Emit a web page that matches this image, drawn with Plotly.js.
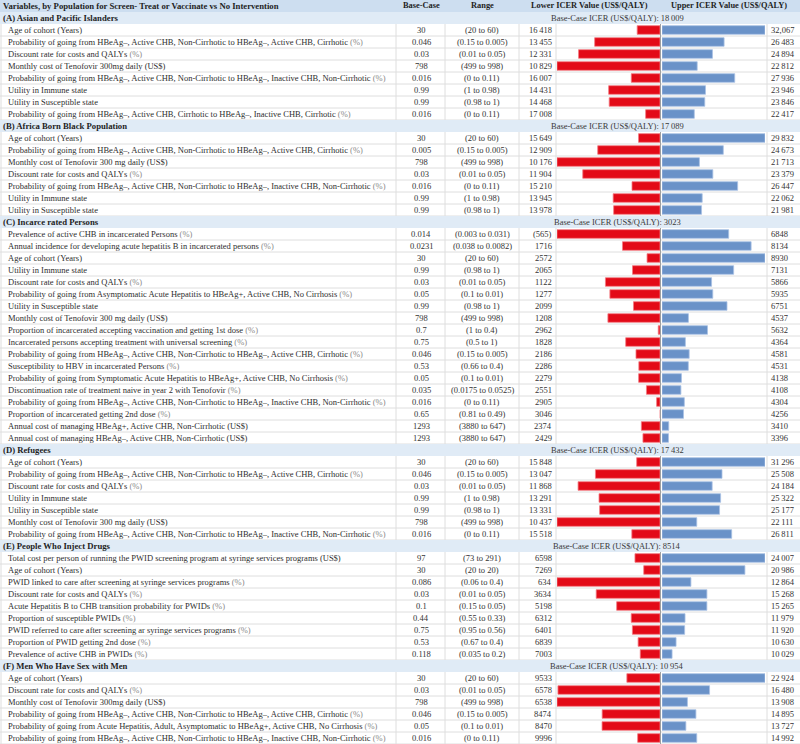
<!DOCTYPE html>
<html><head><meta charset="utf-8">
<script src="https://cdn.plot.ly/plotly-3.0.1.min.js"></script>
<style>html,body{margin:0;padding:0;background:#fff}#chart{width:800px;height:744px}</style>
</head><body><div id="chart"></div>
<script>
// ---------------- DATA ----------------
const headerTitle = "Variables, by Population for Screen- Treat or Vaccinate vs No Intervention";
const columnHeads = ["Base-Case", "Range", "Lower ICER Value (US$/QALY)", "Upper ICER Value (US$/QALY)"];
const sectionNames = ["(A) Asian and Pacific Islanders", "(B) Africa Born Black Population", "(C) Incarce rated Persons",
  "(D) Refugees", "(E) People Who Inject Drugs", "(F) Men Who Have Sex with Men"];
const baseCaseIcer = [18009, 17089, 3023, 17432, 8514, 10954];

const P_AC = "Probability of going from HBeAg–, Active CHB, Non-Cirrhotic to HBeAg–, Active CHB, Cirrhotic (%)";
const P_IN = "Probability of going from HBeAg–, Active CHB, Non-Cirrhotic to HBeAg–, Inactive CHB, Non-Cirrhotic (%)";

// (A) Asian and Pacific Islanders
const aLabels = ["Age of cohort (Years)", P_AC, "Discount rate for costs and QALYs (%)", "Monthly cost of Tenofovir 300mg daily (US$)",
  P_IN, "Utility in Immune state", "Utility in Susceptible state",
  "Probability of going from HBeAg–, Active CHB, Cirrhotic to HBeAg–, Inactive CHB, Cirrhotic (%)"];
const aBase = ["30", "0.046", "0.03", "798", "0.016", "0.99", "0.99", "0.016"];
const aRange = ["(20 to 60)", "(0.15 to 0.005)", "(0.01 to 0.05)", "(499 to 998)", "(0 to 0.11)", "(1 to 0.98)", "(0.98 to 1)", "(0 to 0.11)"];
const aLower = [16418, 13455, 12331, 10829, 16007, 14431, 14468, 17008];
const aUpper = [32067, 26483, 24894, 22812, 27936, 23946, 23846, 22417];

// (B) Africa Born Black Population
const bLabels = ["Age of cohort (Years)", P_AC, "Monthly cost of Tenofovir 300 mg daily (US$)", "Discount rate for costs and QALYs (%)",
  P_IN, "Utility in Immune state", "Utility in Susceptible state"];
const bBase = ["30", "0.005", "798", "0.03", "0.016", "0.99", "0.99"];
const bRange = ["(20 to 60)", "(0.15 to 0.005)", "(499 to 998)", "(0.01 to 0.05)", "(0 to 0.11)", "(1 to 0.98)", "(0.98 to 1)"];
const bLower = [15649, 12909, 10176, 11904, 15210, 13945, 13978];
const bUpper = [29832, 24673, 21713, 23379, 26447, 22062, 21981];

// (C) Incarcerated Persons
const cLabels = ["Prevalence of active CHB in incarcerated Persons (%)",
  "Annual incidence for developing acute hepatitis B in incarcerated persons (%)",
  "Age of cohort (Years)", "Utility in Immune state", "Discount rate for costs and QALYs (%)",
  "Probability of going from Asymptomatic Acute Hepatitis to HBeAg+, Active CHB, No Cirrhosis (%)",
  "Utility in Susceptible state", "Monthly cost of Tenofovir 300 mg daily (US$)",
  "Proportion of incarcerated accepting vaccination and getting 1st dose (%)",
  "Incarcerated persons accepting treatment with universal screening (%)", P_AC,
  "Susceptibility to HBV in incarcerated Persons (%)",
  "Probability of going from Symptomatic Acute Hepatitis to HBeAg+, Active CHB, No Cirrhosis (%)",
  "Discontinuation rate of treatment naive in year 2 with Tenofovir (%)", P_IN,
  "Proportion of incarcerated getting 2nd dose (%)",
  "Annual cost of managing HBeAg+, Active CHB, Non-Cirrhotic (US$)",
  "Annual cost of managing HBeAg–, Active CHB, Non-Cirrhotic (US$)"];
const cBase = ["0.014", "0.0231", "30", "0.99", "0.03", "0.05", "0.99", "798", "0.7", "0.75", "0.046", "0.53", "0.05", "0.035", "0.016", "0.65", "1293", "1293"];
const cRange = ["(0.003 to 0.031)", "(0.038 to 0.0082)", "(20 to 60)", "(0.98 to 1)", "(0.01 to 0.05)", "(0.1 to 0.01)", "(0.98 to 1)",
  "(499 to 998)", "(1 to 0.4)", "(0.5 to 1)", "(0.15 to 0.005)", "(0.66 to 0.4)", "(0.1 to 0.01)", "(0.0175 to 0.0525)",
  "(0 to 0.11)", "(0.81 to 0.49)", "(3880 to 647)", "(3880 to 647)"];
const cLower = [-565, 1716, 2572, 2065, 1122, 1277, 2099, 1208, 2962, 1828, 2186, 2286, 2279, 2551, 2905, 3046, 2374, 2429];
const cUpper = [6848, 8134, 8930, 7131, 5866, 5935, 6751, 4537, 5632, 4364, 4581, 4531, 4138, 4108, 4304, 4256, 3410, 3396];

// (D) Refugees
const dLabels = ["Age of cohort (Years)", P_AC, "Discount rate for costs and QALYs (%)", "Utility in Immune state",
  "Utility in Susceptible state", "Monthly cost of Tenofovir 300 mg daily (US$)", P_IN];
const dBase = ["30", "0.046", "0.03", "0.99", "0.99", "798", "0.016"];
const dRange = ["(20 to 60)", "(0.15 to 0.005)", "(0.01 to 0.05)", "(1 to 0.98)", "(0.98 to 1)", "(499 to 998)", "(0 to 0.11)"];
const dLower = [15848, 13047, 11868, 13291, 13331, 10437, 15518];
const dUpper = [31296, 25508, 24184, 25322, 25177, 22111, 26811];

// (E) People Who Inject Drugs
const eLabels = ["Total cost per person of running the PWID screening program at syringe services programs (US$)",
  "Age of cohort (Years)", "PWID linked to care after screening at syringe services programs (%)",
  "Discount rate for costs and QALYs (%)", "Acute Hepatitis B to CHB transition probability for PWIDs (%)",
  "Proportion of susceptible PWIDs (%)", "PWID referred to care after screening ar syringe services programs (%)",
  "Proportion of PWID getting 2nd dose (%)", "Prevalence of active CHB in PWIDs (%)"];
const eBase = ["97", "30", "0.086", "0.03", "0.1", "0.44", "0.75", "0.53", "0.118"];
const eRange = ["(73 to 291)", "(20 to 20)", "(0.06 to 0.4)", "(0.01 to 0.05)", "(0.15 to 0.05)", "(0.55 to 0.33)", "(0.95 to 0.56)", "(0.67 to 0.4)", "(0.035 to 0.2)"];
const eLower = [6598, 7269, 634, 3634, 5198, 6312, 6401, 6839, 7003];
const eUpper = [24007, 20986, 12864, 15268, 15265, 11979, 11920, 10630, 10029];

// (F) Men Who Have Sex with Men
const fLabels = ["Age of cohort (Years)", "Discount rate for costs and QALYs (%)", "Monthly cost of Tenofovir 300mg daily (US$)", P_AC,
  "Probability of going from Acute Hepatitis, Adult, Asymptomatic to HBeAg+, Active CHB, No Cirrhosis (%)", P_IN];
const fBase = ["30", "0.03", "798", "0.046", "0.05", "0.016"];
const fRange = ["(20 to 60)", "(0.01 to 0.05)", "(499 to 998)", "(0.15 to 0.005)", "(0.1 to 0.01)", "(0 to 0.11)"];
const fLower = [9533, 6578, 6538, 8474, 8470, 9996];
const fUpper = [22924, 16480, 13908, 14895, 13727, 14992];

// one value printed with a comma in the source table
const upperTextOverride = {"0-0": "32,067"};

// ---------------- BUILD ----------------
const sections = [
  {labels: aLabels, base: aBase, range: aRange, lower: aLower, upper: aUpper},
  {labels: bLabels, base: bBase, range: bRange, lower: bLower, upper: bUpper},
  {labels: cLabels, base: cBase, range: cRange, lower: cLower, upper: cUpper},
  {labels: dLabels, base: dBase, range: dRange, lower: dLower, upper: dUpper},
  {labels: eLabels, base: eBase, range: eRange, lower: eLower, upper: eUpper},
  {labels: fLabels, base: fBase, range: fRange, lower: fLower, upper: fUpper}
];

const W = 800, H = 744, ROW = 12;
const FONT = "Liberation Serif, Times New Roman, serif";
const RED = "#e30a17", BLUE = "#6a92c8";
const COL = {label: 7, base: 421, range: 482, lowerR: 553, barL0: 557, barL1: 660, barR0: 662, barR1: 765, upperL: 770, icer: 617};
const VLINES = [1, 396, 445, 519, 556, 767];

const px = v => v / W;
const pyTop = r => 1 - r * ROW / H;          // top edge of row r
const pyMid = r => 1 - (r + 0.5) * ROW / H;  // centre of row r

function fmt(v) {
  const a = Math.abs(v);
  let s = a >= 10000 ? String(a).replace(/\B(?=(\d{3})+(?!\d))/g, "\u2009") : String(a);
  return v < 0 ? "(" + s + ")" : s;
}
function styleLabel(t) {
  return t.replace("(%)", '<span style="color:#8a8a8a">(%)</span>');
}

const traces = [], annotations = [], shapes = [];
const layout = {
  width: W, height: H, margin: {l: 0, r: 0, t: 0, b: 0, pad: 0},
  paper_bgcolor: "#ffffff", plot_bgcolor: "rgba(0,0,0,0)",
  showlegend: false, barmode: "overlay", font: {family: FONT}
};

function ann(x, y, text, opts) {
  annotations.push(Object.assign({
    xref: "paper", yref: "paper", x: x, y: y, text: text, showarrow: false,
    xanchor: "left", yanchor: "middle", borderpad: 0,
    font: {family: FONT, size: 8.5, color: "#2e2e2e"}
  }, opts || {}));
}
function hline(y, x0, x1, color) {
  shapes.push({type: "line", xref: "paper", yref: "paper", x0: x0, x1: x1, y0: y, y1: y, layer: "below",
    line: {color: color || "#dedede", width: 1}});
}

// table header row
shapes.push({type: "rect", xref: "paper", yref: "paper", x0: 0, x1: 1, y0: pyTop(1), y1: pyTop(0), layer: "below",
  fillcolor: "#cddef0", line: {width: 0}});
const HF = {family: FONT, size: 8.7, color: "#1e1e1e"};
const CHF = {family: FONT, size: 8.4, color: "#1e1e1e"};
ann(px(2), pyMid(0), "<b>" + headerTitle + "</b>", {font: HF});
ann(px(COL.base), pyMid(0), "<b>" + columnHeads[0] + "</b>", {xanchor: "center", font: CHF});
ann(px(COL.range), pyMid(0), "<b>" + columnHeads[1] + "</b>", {xanchor: "center", font: CHF});
ann(px(589), pyMid(0), "<b>" + columnHeads[2] + "</b>", {xanchor: "center", font: CHF});
ann(px(729), pyMid(0), "<b>" + columnHeads[3] + "</b>", {xanchor: "center", font: CHF});

let row = 1;
sections.forEach((sec, s) => {
  const n = sec.labels.length;
  const baseIcer = baseCaseIcer[s];
  const hr = row;               // section header row
  const first = row + 1, last = row + n;

  // section header band
  shapes.push({type: "rect", xref: "paper", yref: "paper", x0: 0, x1: 1, y0: pyTop(hr + 1), y1: pyTop(hr), layer: "below",
    fillcolor: "#e0ebf6", line: {width: 0}});
  ann(px(2), pyMid(hr), "<b>" + sectionNames[s] + "</b>", {font: HF});
  ann(px(COL.icer), pyMid(hr), "Base-Case ICER (US$/QALY): " + fmt(baseIcer),
    {xanchor: "center", font: {family: FONT, size: 8.5, color: "#3a3a3a"}});

  // grid lines for data rows
  for (let r = first; r <= last; r++) hline(pyTop(r + 1), 0, 1);
  VLINES.forEach(x => shapes.push({type: "line", xref: "paper", yref: "paper", x0: px(x), x1: px(x),
    y0: pyTop(last + 1), y1: pyTop(first), layer: "below", line: {color: "#dedede", width: 1}}));
  shapes.push({type: "line", xref: "paper", yref: "paper", x0: px(660.5), x1: px(660.5),
    y0: pyTop(last + 1), y1: pyTop(first), layer: "below", line: {color: "#a0a0a0", width: 1}});

  // text cells
  const NF = {family: FONT, size: 8.5, color: "#333333"};
  sec.labels.forEach((lab, i) => {
    const r = first + i;
    ann(px(COL.label), pyMid(r), styleLabel(lab));
    ann(px(COL.base), pyMid(r), sec.base[i], {xanchor: "center", font: NF});
    ann(px(COL.range), pyMid(r), sec.range[i], {xanchor: "center", font: NF});
    ann(px(COL.lowerR), pyMid(r), fmt(sec.lower[i]), {xanchor: "right", font: NF});
    const ut = upperTextOverride[s + "-" + i] || fmt(sec.upper[i]);
    ann(px(COL.upperL), pyMid(r), ut, {font: NF});
  });

  // axes for the tornado bars of this section
  const xl = 2 * s + 1, xr = 2 * s + 2, yi = s + 1;
  const xName = k => (k === 1 ? "x" : "x" + k);
  const xKey = k => (k === 1 ? "xaxis" : "xaxis" + k);
  const yName = yi === 1 ? "y" : "y" + yi, yKey = yi === 1 ? "yaxis" : "yaxis" + yi;
  const minLower = Math.min(...sec.lower), maxUpper = Math.max(...sec.upper);
  const axCommon = {visible: false, showgrid: false, zeroline: false, fixedrange: true};
  layout[xKey(xl)] = Object.assign({domain: [px(COL.barL0), px(COL.barL1)], range: [minLower, baseIcer], anchor: yName}, axCommon);
  layout[xKey(xr)] = Object.assign({domain: [px(COL.barR0), px(COL.barR1)], range: [baseIcer, maxUpper], anchor: yName}, axCommon);
  layout[yKey] = Object.assign({domain: [pyTop(last + 1), pyTop(first)], range: [n - 0.5, -0.5], anchor: xName(xl)}, axCommon);

  const idx = sec.labels.map((_, i) => i);
  traces.push({type: "bar", orientation: "h", xaxis: xName(xl), yaxis: yName, y: idx,
    base: baseIcer, x: sec.lower.map(v => v - baseIcer), width: 0.72, hoverinfo: "skip",
    marker: {color: RED, line: {color: "#f27c84", width: 0.8}}});
  traces.push({type: "bar", orientation: "h", xaxis: xName(xr), yaxis: yName, y: idx,
    base: baseIcer, x: sec.upper.map(v => v - baseIcer), width: 0.72, hoverinfo: "skip",
    marker: {color: BLUE, line: {color: "#a9c2e4", width: 0.8}}});

  row = last + 1;
});

layout.annotations = annotations;
layout.shapes = shapes;
Plotly.newPlot("chart", traces, layout, {staticPlot: true, displayModeBar: false});
</script>
</body></html>
